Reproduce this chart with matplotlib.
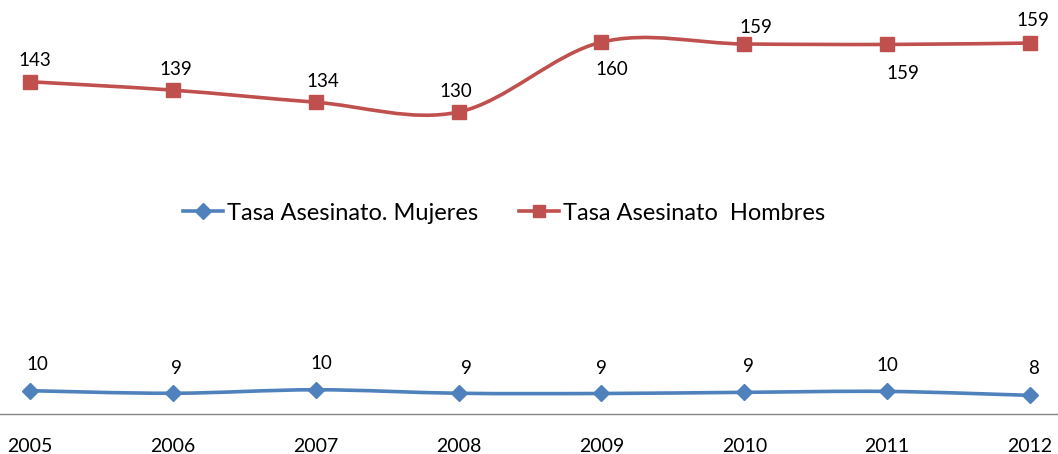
import matplotlib
matplotlib.use("Agg")
import matplotlib.pyplot as plt
from matplotlib.path import Path
from matplotlib.patches import PathPatch
from matplotlib.lines import Line2D

plt.rcParams['font.family'] = ['Lato', 'DejaVu Sans']

years = [2005, 2006, 2007, 2008, 2009, 2010, 2011, 2012]
hombres = [142.6, 139.0, 133.8, 129.6, 159.6, 158.8, 158.6, 159.2]
mujeres = [10.0, 8.9, 10.4, 8.9, 8.8, 9.3, 9.7, 8.0]
hombres_labels = ["143", "139", "134", "130", "160", "159", "159", "159"]
mujeres_labels = ["10", "9", "10", "9", "9", "9", "10", "8"]
series_names = ["Tasa Asesinato. Mujeres", "Tasa Asesinato  Hombres"]

blue = "#4F81BD"
red = "#C0504D"

W, H = 1058, 454
fig = plt.figure(figsize=(W / 100, H / 100), dpi=100)
ax = fig.add_axes([0, (H - 414) / H, 1, 414 / H])
ax.set_xlim(2005 - 30 / 142.9, 2012 + 28 / 142.9)
ax.set_ylim(0, 414 / 2.33)


def smooth_path(xs, ys):
    pts = list(zip(xs, ys))
    n = len(pts)
    verts = [pts[0]]
    codes = [Path.MOVETO]
    for i in range(n - 1):
        p0 = pts[i - 1] if i > 0 else pts[i]
        p1 = pts[i]
        p2 = pts[i + 1]
        p3 = pts[i + 2] if i + 2 < n else pts[i + 1]
        c1 = (p1[0] + (p2[0] - p0[0]) / 6, p1[1] + (p2[1] - p0[1]) / 6)
        c2 = (p2[0] - (p3[0] - p1[0]) / 6, p2[1] - (p3[1] - p1[1]) / 6)
        verts += [c1, c2, p2]
        codes += [Path.CURVE4] * 3
    return Path(verts, codes)


for vals, col, mk, ms in [(mujeres, blue, 'D', 8), (hombres, red, 's', 9.5)]:
    ax.add_patch(PathPatch(smooth_path(years, vals), facecolor='none',
                           edgecolor=col, lw=2.6, capstyle='round', zorder=2))
    ax.plot(years, vals, linestyle='none', marker=mk, ms=ms, color=col,
            markeredgecolor=col, zorder=3, clip_on=False)

h_off = [(5, 21), (3, 21), (7, 21), (-3, 21), (10, -27), (12, 16), (16, -29), (3, 23)]
m_off = [(7, 26), (4, 25), (6, 26), (8, 25), (0, 25), (4, 26), (0, 26), (4, 27)]
for x, v, lab, (dx, dy) in zip(years, hombres, hombres_labels, h_off):
    ax.annotate(lab, (x, v), xytext=(dx, dy), textcoords='offset pixels',
                ha='center', va='center', fontsize=13.5, color='black', annotation_clip=False)
for x, v, lab, (dx, dy) in zip(years, mujeres, mujeres_labels, m_off):
    ax.annotate(lab, (x, v), xytext=(dx, dy), textcoords='offset pixels',
                ha='center', va='center', fontsize=13.5, color='black', annotation_clip=False)

ax.set_xticks(years)
ax.set_xticklabels([str(y) for y in years], fontsize=14)
ax.tick_params(axis='x', length=0, pad=17.5)
ax.set_yticks([])
for s in ['top', 'right', 'left']:
    ax.spines[s].set_visible(False)
ax.spines['bottom'].set_color('#868686')
ax.spines['bottom'].set_linewidth(1.0)

handles = [Line2D([], [], color=blue, lw=2.6, marker='D', ms=8),
           Line2D([], [], color=red, lw=2.6, marker='s', ms=9)]
fig.legend(handles, series_names, loc='center', bbox_to_anchor=(504 / W, 1 - 213 / H),
           ncol=2, frameon=False, fontsize=17, handlelength=1.7, handletextpad=0.17,
           columnspacing=1.74)

fig.savefig("out.png", dpi=100)
